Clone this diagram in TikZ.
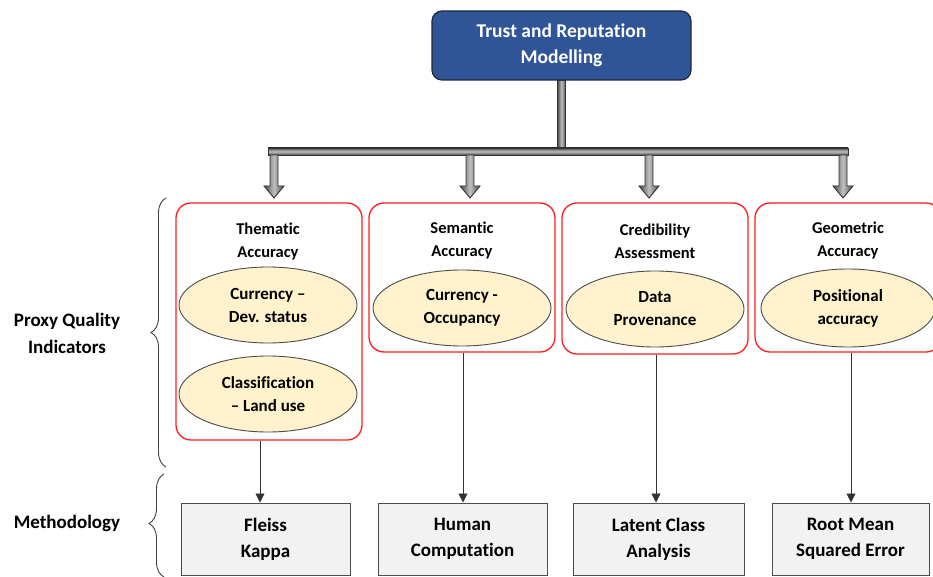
\documentclass[tikz,border=0pt]{standalone}
\usepackage{fontspec}
\setmainfont{Carlito}[Ligatures={NoCommon,NoRequired,NoContextual}]
\usetikzlibrary{shapes.geometric,arrows.meta,decorations.pathreplacing,calc}
\definecolor{topblue}{RGB}{47,85,151}
\definecolor{topedge}{RGB}{30,40,60}
\definecolor{ellfill}{RGB}{255,242,204}
\definecolor{boxfill}{RGB}{242,242,242}
\definecolor{redline}{RGB}{255,30,30}
\tikzset{
  topbox/.style={draw=topedge, line width=1.2pt, fill=topblue, rounded corners=10pt, minimum width=259pt, minimum height=69pt, inner sep=0pt, text=white, font=\fontsize{19.5}{26}\selectfont\bfseries, align=center},
  redbox/.style={draw=redline, line width=1.3pt, fill=white, rounded corners=15pt, minimum width=186pt, inner sep=0pt},
  title/.style={font=\fontsize{16.5}{23}\selectfont\bfseries, align=center, inner sep=0pt},
  ell/.style={ellipse, draw=black!70, line width=0.9pt, fill=ellfill, minimum width=178pt, minimum height=76pt, inner sep=0pt, font=\fontsize{17}{23}\selectfont\bfseries, align=center},
  methbox/.style={draw=black!70, line width=1pt, fill=boxfill, minimum height=72pt, inner sep=0pt, font=\fontsize{19}{26}\selectfont\bfseries, align=center},
  sidelabel/.style={font=\fontsize{19}{27}\selectfont\bfseries, align=center, inner sep=0pt},
  pipefill/.style={draw=black!80, line width=0.9pt, left color=black!70, right color=black!70, middle color=black!25},
  thinarrow/.style={draw=black!80, line width=0.9pt, -{Triangle[length=9pt,width=9pt]}},
  bracestyle/.style={draw=black!75, line width=0.9pt, decorate, decoration={brace, amplitude=10pt}},
  pipearrow/.pic={\path[pipefill] (-4,0) -- (4,0) -- (4,31) -- (10,31) -- (0,43) -- (-10,31) -- (-4,31) -- cycle;}
}
\begin{document}
\begin{tikzpicture}[x=1pt,y=-1pt]
\useasboundingbox (0,0) rectangle (933,577);
\begin{scope}
\clip (0,0) rectangle (933,577);
% top
\node[topbox] (top) at (561.5,45.5) {Trust and Reputation\\Modelling};
\node[draw=black!80, line width=0.9pt, top color=black!70, bottom color=black!70, middle color=black!25, minimum width=580pt, minimum height=7pt, inner sep=0pt] (bar) at (558,151.5) {};
\path[pipefill] ($(top.south)+(-4,0)$) rectangle ($(top.south |- bar.north)+(4,0)$);
% red boxes
\node[redbox, minimum height=237pt] (t1) at (269,321.5) {};
\node[redbox, minimum height=149pt] (t2) at (462,277.5) {};
\node[redbox, minimum height=151pt] (t3) at (655,278.5) {};
\node[redbox, minimum height=149pt] (t4) at (848,277.5) {};
% pipe arrows
\pic at (274,155) {pipearrow};
\pic at (470,155) {pipearrow};
\pic at (649,155) {pipearrow};
\pic at (843,155) {pipearrow};
% titles
\node[title] (h1) at (268,241.5) {Thematic\\Accuracy};
\node[title] (h2) at (462,240.5) {Semantic\\Accuracy};
\node[title] (h3) at (655,241.5) {Credibility\\Assessment};
\node[title] (h4) at (848,240.5) {Geometric\\Accuracy};
% ellipses
\node[ell] (e1a) at (268,305) {Currency --\\Dev. status};
\node[ell] (e1b) at (268,394) {Classification\\-- Land use};
\node[ell] (e2) at (462,308) {Currency -\\Occupancy};
\node[ell] (e3) at (655,309) {Data\\Provenance};
\node[ell, minimum width=174pt, minimum height=78pt] (e4) at (848,308) {Positional\\accuracy};
% method boxes
\node[methbox, minimum width=169pt] (m1) at (265.5,539) {Fleiss\\Kappa};
\node[methbox, minimum width=169pt] (m2) at (462.5,539) {Human\\Computation};
\node[methbox, minimum width=171pt] (m3) at (658.5,539) {Latent Class\\Analysis};
\node[methbox, minimum width=157pt] (m4) at (850.5,539) {Root Mean\\Squared Error};
% thin arrows
\coordinate (a1) at (260,0);
\coordinate (a2) at (463,0);
\coordinate (a3) at (656,0);
\coordinate (a4) at (851,0);
\draw[thinarrow] (t1.south -| a1) -- (m1.north -| a1);
\draw[thinarrow] (t2.south -| a2) -- (m2.north -| a2);
\draw[thinarrow] (t3.south -| a3) -- (m3.north -| a3);
\draw[thinarrow] (t4.south -| a4) -- (m4.north -| a4);
% side labels and braces
\node[sidelabel] (pq) at (67,333) {Proxy Quality\\Indicators};
\node[sidelabel] (me) at (67,523) {Methodology};
\coordinate (b1s) at (166,467);
\coordinate (b1e) at (166,198);
\coordinate (b2s) at (164,577);
\coordinate (b2e) at (164,474);
\draw[bracestyle, decoration={brace, amplitude=15pt}] (b1s) -- (b1e);
\draw[bracestyle, decoration={brace, amplitude=15pt, aspect=0.52}] (b2s) -- (b2e);
\end{scope}
\end{tikzpicture}
\end{document}
